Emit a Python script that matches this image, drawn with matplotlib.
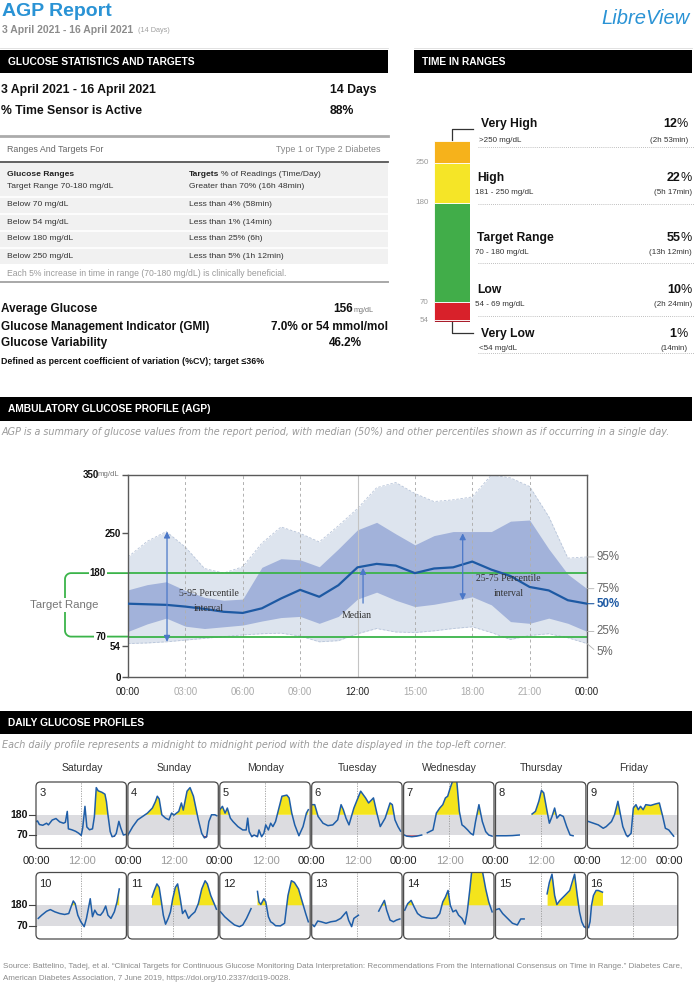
import numpy as np
import matplotlib
matplotlib.use("Agg")
import matplotlib.pyplot as plt
from matplotlib.patches import Rectangle, FancyBboxPatch
from matplotlib.transforms import blended_transform_factory

plt.rcParams["font.family"] = ["Liberation Sans", "DejaVu Sans"]

# ---------------- data ----------------
report_period = "3 April 2021 - 16 April 2021"
n_days_label = "14 Days"
sensor_active = "88%"

tir_names = ["Very Low", "Low", "Target Range", "High", "Very High"]
tir_ranges = ["<54 mg/dL", "54 - 69 mg/dL", "70 - 180 mg/dL", "181 - 250 mg/dL", ">250 mg/dL"]
tir_pct = [1, 10, 55, 22, 12]
tir_time = ["(14min)", "(2h 24min)", "(13h 12min)", "(5h 17min)", "(2h 53min)"]
tir_bounds = ["54", "70", "180", "250"]

target_ranges = ["Below 70 mg/dL", "Below 54 mg/dL", "Below 180 mg/dL", "Below 250 mg/dL"]
target_goals = ["Less than 4% (58min)", "Less than 1% (14min)", "Less than 25% (6h)", "Less than 5% (1h 12min)"]

avg_glucose = "156"
gmi_text = "7.0% or 54 mmol/mol"
cv_text = "46.2%"

agp_hours = list(range(25))
agp_p5 = [58, 59, 61, 64, 67, 70, 73, 75, 76, 71, 61, 63, 75, 84, 78, 77, 80, 84, 87, 77, 65, 72, 75, 68, 58]
agp_p25 = [79, 92, 102, 88, 84, 87, 90, 97, 103, 105, 93, 105, 135, 147, 133, 122, 126, 132, 139, 125, 96, 93, 102, 93, 79]
agp_p50 = [127, 126, 125, 122, 118, 113, 111, 119, 136, 151, 139, 159, 190, 196, 193, 180, 188, 190, 200, 186, 175, 156, 150, 133, 127]
agp_p75 = [151, 160, 165, 150, 138, 133, 135, 190, 205, 203, 191, 222, 255, 268, 248, 229, 245, 252, 252, 252, 270, 272, 222, 178, 153]
agp_p95 = [208, 235, 252, 225, 188, 180, 191, 232, 260, 249, 234, 262, 292, 328, 337, 318, 304, 307, 312, 350, 345, 330, 278, 206, 208]
agp_xticklabels = ["00:00", "03:00", "06:00", "09:00", "12:00", "15:00", "18:00", "21:00", "00:00"]

weekdays = ["Saturday", "Sunday", "Monday", "Tuesday", "Wednesday", "Thursday", "Friday"]
day_numbers = [3, 4, 5, 6, 7, 8, 9, 10, 11, 12, 13, 14, 15, 16]

day03 = [(0.0, 144), (0.4, 147), (0.9, 128), (1.8, 124), (2.8, 135), (3.3, 126), (4.3, 152), (5.3, 160), (6.3, 142), (7.3, 135), (7.8, 140), (8.3, 198), (8.6, 105), (9.5, 100), (10.5, 92), (11.3, 82), (12.0, 70), (12.4, 110), (13.0, 225), (13.5, 115), (14.2, 100), (15.0, 105), (15.5, 170), (16.0, 325), (16.5, 308), (17.5, 300), (18.3, 290), (18.7, 250), (19.1, 180), (19.7, 90), (20.2, 63), (20.8, 66), (21.3, 80), (22.0, 145), (22.5, 110), (23.2, 72), (24.0, 76)]
day04 = [(0.0, 72), (1.3, 117), (2.6, 153), (3.9, 171), (5.2, 189), (6.5, 216), (7.3, 250), (7.8, 279), (8.3, 265), (9.0, 180), (10.0, 162), (10.9, 153), (11.6, 189), (12.2, 178), (13.5, 198), (14.2, 243), (14.7, 205), (15.7, 306), (16.5, 325), (17.4, 279), (18.7, 153), (19.6, 81), (20.3, 57), (20.9, 63), (21.5, 144), (22.2, 180), (23.1, 180), (23.6, 175)]
day05 = [(0.0, 207), (0.7, 225), (1.4, 189), (2.0, 216), (2.8, 162), (3.5, 144), (4.8, 117), (6.1, 99), (7.0, 99), (7.4, 162), (7.8, 90), (8.5, 63), (9.1, 72), (10.0, 63), (10.4, 99), (11.1, 63), (11.7, 81), (12.2, 126), (12.9, 99), (13.5, 135), (14.1, 117), (14.8, 144), (15.7, 216), (16.5, 279), (17.8, 285), (18.4, 270), (19.1, 189), (19.9, 126), (21.0, 68), (22.1, 117), (23.0, 189), (23.5, 207)]
day06 = [(0.0, 234), (0.8, 234), (1.7, 171), (3.0, 135), (4.3, 122), (5.6, 126), (6.9, 153), (7.8, 234), (8.4, 207), (9.1, 162), (9.9, 126), (11.2, 216), (13.0, 306), (14.3, 270), (15.1, 243), (16.4, 270), (17.3, 189), (18.2, 117), (19.5, 162), (20.8, 243), (21.4, 234), (22.1, 153), (22.9, 117), (23.6, 93)]
day07 = [(0.2, 72), (0.8, 66), (2.2, 63), (3.5, 66), (4.8, 72), (5.3, None), (6.3, 84), (7.8, 99), (8.7, 189), (9.6, 216), (10.4, 234), (11.1, 270), (11.7, 279), (12.4, 325), (13.1, 365), (14.1, 365), (14.8, 198), (15.5, 126), (16.1, 117), (17.0, 99), (17.8, 81), (18.5, 72), (19.1, 144), (20.0, 234), (20.9, 144), (21.8, 90), (22.6, 72), (23.5, 66)]
day08 = [(0.2, 68), (2.8, 68), (4.5, 69), (6.3, 72), (7.0, None), (9.7, 184), (10.6, 198), (11.5, 252), (12.2, 310), (12.8, 297), (13.7, 198), (14.3, 135), (15.0, 171), (15.7, 216), (16.3, 162), (17.1, 180), (18.0, 171), (18.9, 117), (19.8, 72), (20.6, 68)]
day09 = [(0.3, 144), (1.6, 135), (2.9, 126), (4.2, 108), (5.0, 117), (6.4, 144), (7.2, 180), (8.1, 252), (8.7, 189), (9.4, 117), (10.3, 72), (10.7, 63), (11.6, 81), (12.2, 216), (12.9, 234), (13.5, 207), (14.1, 225), (14.8, 207), (15.5, 234), (16.8, 230), (18.1, 238), (19.1, 243), (20.0, 171), (20.7, 108), (21.6, 99), (22.3, 81), (22.9, 66)]
day10 = [(0.6, 110), (1.5, 127), (2.8, 148), (3.8, 157), (5.0, 145), (6.3, 136), (7.6, 131), (8.7, 136), (9.3, 171), (9.9, 203), (10.4, 189), (11.1, 127), (11.9, 92), (12.8, 66), (13.4, 110), (13.9, 162), (14.4, 215), (15.0, 119), (15.6, 154), (16.3, 131), (17.1, 127), (17.8, 145), (18.5, 176), (19.1, 127), (19.9, 110), (20.8, 145), (21.5, 197), (22.1, 267)]
day11 = [(6.4, 224), (7.0, 259), (7.7, 294), (8.3, 276), (8.9, 198), (9.4, 127), (10.0, 79), (10.7, 110), (11.3, 145), (11.9, 215), (12.6, 276), (13.2, 294), (13.9, 215), (14.5, 136), (15.2, 154), (16.1, 110), (16.8, 127), (17.8, 145), (18.7, 189), (19.6, 267), (20.5, 311), (21.1, 294), (22.0, 232), (22.9, 189), (23.5, 159)]
day12 = [(0.2, 145), (1.3, 119), (2.6, 96), (3.9, 75), (5.2, 66), (6.1, 75), (7.1, 110), (8.3, 162), (9.0, None), (10.0, 254), (10.4, 198), (10.9, 184), (11.7, 215), (12.2, 198), (12.9, 119), (13.5, 92), (14.1, 84), (14.8, 71), (16.1, 70), (17.2, 84), (18.1, 232), (19.0, 311), (19.8, 302), (20.9, 267), (21.9, 198), (22.8, 136), (23.5, 92)]
day13 = [(0.3, 75), (0.7, 66), (1.6, 96), (2.5, 92), (3.8, 84), (5.1, 92), (6.4, 96), (7.7, 110), (9.2, 145), (9.8, 100), (10.6, 66), (11.2, 110), (12.4, 127), (13.0, None), (17.8, 149), (18.6, 180), (19.3, 206), (19.9, 154), (20.8, 101), (21.7, 92), (22.5, 101), (23.4, 107)]
day14 = [(0.3, 154), (1.1, 189), (2.0, 206), (2.8, 171), (3.7, 136), (4.8, 119), (6.1, 113), (7.4, 110), (8.7, 113), (9.6, 136), (10.4, 198), (11.1, 224), (11.8, 259), (12.4, 180), (13.1, 145), (13.9, 154), (14.6, 127), (15.5, 110), (16.3, 79), (16.9, 145), (17.6, 267), (18.1, 365), (20.9, 365), (21.8, 267), (22.6, 198), (23.5, 145)]
day15 = [(0.2, 157), (1.0, 162), (1.9, 136), (3.2, 110), (4.5, 84), (5.8, 75), (6.7, 107), (7.6, 107), (8.0, None), (13.7, 241), (14.3, 302), (15.0, 346), (15.7, 232), (16.3, 184), (17.1, 206), (18.4, 232), (19.7, 259), (20.6, 320), (21.0, 346), (21.7, 232), (22.3, 145), (22.9, 92), (23.5, 66), (23.9, 61)]
day16 = [(0.3, 61), (0.7, 92), (1.1, 180), (1.6, 232), (2.3, 259), (2.9, 259), (3.5, 254), (4.0, 250)]
daily_traces = [day03, day04, day05, day06, day07, day08, day09, day10, day11, day12, day13, day14, day15, day16]

# ---------------- colours ----------------
BLUE_T = "#2a93d5"
TIR_COLORS = ["#a91d2b", "#d8212a", "#41ad49", "#f5e527", "#f6b21b"]
AGP_LIGHT = "#dde4ee"
AGP_DARK = "#a2b2da"
AGP_MED = "#1d59a3"
GREEN = "#3bb44a"
WIDE = ["DejaVu Sans"]

# ---------------- figure ----------------
W, H = 700, 992
fig = plt.figure(figsize=(7, 9.92), dpi=100)
bg = fig.add_axes([0, 0, 1, 1])
bg.set_xlim(0, W)
bg.set_ylim(H, 0)
bg.axis("off")
renderer = fig.canvas.get_renderer()


def T(x, y, s, size=6.0, weight="normal", color="#222222", ha="left", va="center",
      style="normal", family=None, **kw):
    d = dict(fontsize=size, fontweight=weight, color=color, ha=ha, va=va, style=style)
    if family is not None:
        d["family"] = family
    d.update(kw)
    return bg.text(x, y, s, **d)


def width(t):
    return t.get_window_extent(renderer=renderer).width


def header_bar(x0, y0, x1, y1, label):
    bg.add_patch(Rectangle((x0, y0), x1 - x0, y1 - y0, color="black", lw=0))
    T(x0 + 8, (y0 + y1) / 2 + 0.5, label, size=7.4, weight="bold", color="white")


def axes_px(x0, y0, x1, y1, **kw):
    return fig.add_axes([x0 / W, 1 - y1 / H, (x1 - x0) / W, (y1 - y0) / H], **kw)


# ---- title ----
T(2, 12, "AGP Report", size=14, weight="bold", color=BLUE_T)
t = T(2, 30, report_period, size=7.5, weight="bold", color="#8c8c8c")
T(2 + width(t) + 5, 30.5, "(14 Days)", size=5.2, color="#a0a0a0")
T(690, 18, "LibreView", size=14.5, style="italic", color=BLUE_T, ha="right")
bg.plot([0, 388], [48, 48], color="#dddddd", lw=0.6)
bg.plot([414, 692], [48, 48], color="#dddddd", lw=0.6)

# ---- glucose statistics ----
header_bar(0, 50, 388, 73, "GLUCOSE STATISTICS AND TARGETS")
T(1, 90, report_period, size=8.8, weight="bold", color="#111")
T(330, 90, n_days_label, size=8.8, weight="bold", color="#111")
T(1, 111, "% Time Sensor is Active", size=8.8, weight="bold", color="#111")
T(330, 111, sensor_active, size=8.8, weight="bold", color="#111")

bg.plot([0, 388], [136, 136], color="#ababab", lw=2)
T(7, 149, "Ranges And Targets For", size=6.4, color="#666")
T(381, 149, "Type 1 or Type 2 Diabetes", size=6.4, color="#888", ha="right")
bg.add_patch(Rectangle((0, 162), 388, 102, color="#f1f1f1", lw=0))
bg.plot([0, 388], [162, 162], color="#555", lw=1.3)
T(7, 174, "Glucose Ranges", size=6.1, weight="bold", color="#222")
T(7, 187, "Target Range 70-180 mg/dL", size=6.1, color="#333")
tt = T(189, 174, "Targets", size=6.1, weight="bold", color="#222")
T(189 + width(tt) + 2, 174, "% of Readings (Time/Day)", size=6.1, color="#333")
T(189, 187, "Greater than 70% (16h 48min)", size=6.1, color="#333")
row_y = [205, 222, 239, 256]
for yy, a, b in zip(row_y, target_ranges, target_goals):
    bg.plot([0, 388], [yy - 8.5, yy - 8.5], color="white", lw=1.2)
    T(7, yy, a, size=6.1, color="#333")
    T(189, yy, b, size=6.1, color="#333")
bg.plot([0, 388], [264.5, 264.5], color="white", lw=1.2)
T(7, 273, "Each 5% increase in time in range (70-180 mg/dL) is clinically beneficial.", size=6.2, color="#9a9a9a")
bg.plot([0, 388], [282, 282], color="#a8a8a8", lw=1.4)

T(1, 309, "Average Glucose", size=8.5, weight="bold", color="#111")
ta = T(333, 309, avg_glucose, size=8.5, weight="bold", color="#111")
T(333 + width(ta) + 1, 310, "mg/dL", size=5.2, color="#777")
T(1, 327, "Glucose Management Indicator (GMI)", size=8.5, weight="bold", color="#111")
T(388, 327, gmi_text, size=8.5, weight="bold", color="#111", ha="right")
T(1, 343, "Glucose Variability", size=8.5, weight="bold", color="#111")
T(329, 343, cv_text, size=8.5, weight="bold", color="#111")
T(1, 362, "Defined as percent coefficient of variation (%CV); target \u226436%", size=6.4, weight="bold", color="#111")

# ---- time in ranges ----
header_bar(414, 50, 692, 73, "TIME IN RANGES")
tax = axes_px(434, 141, 470, 322)
tax.set_xlim(0, 1)
tax.set_ylim(0, sum(tir_pct))
bottoms = np.concatenate([[0], np.cumsum(tir_pct)[:-1]])
tax.bar(0.5, tir_pct, bottom=bottoms, width=1.0, color=TIR_COLORS, edgecolor="white", linewidth=0.6)
tax.axis("off")
btr = blended_transform_factory(tax.transAxes, tax.transData)
for b, lab in zip(np.cumsum(tir_pct)[:-1], tir_bounds):
    tax.text(-0.15, b, lab, transform=btr, ha="right", va="center", fontsize=5.8, color="#9a9a9a")

bg.plot([452, 452, 473], [141, 129, 129], color="#333", lw=0.9)
bg.plot([452, 452, 473], [322, 333, 333], color="#333", lw=0.9)

tir_name_y = [334, 290, 238, 178, 124]
tir_sub_y = [348, 304, 252, 193, 141]
tir_line_y = [353, 316, 263, 204, 147]
tir_name_x = [481, 477, 477, 477, 481]
tir_right = [688, 692, 692, 692, 688]
for i in range(5):
    T(tir_name_x[i], tir_name_y[i], tir_names[i], size=8.7, weight="bold", color="#111")
    T(tir_name_x[i] - 2, tir_sub_y[i], tir_ranges[i], size=5.8, color="#333")
    tp = T(tir_right[i], tir_name_y[i], "%", size=9, color="#111", ha="right")
    T(tir_right[i] - width(tp), tir_name_y[i], str(tir_pct[i]), size=9, weight="bold", color="#111", ha="right")
    T(tir_right[i], tir_sub_y[i], tir_time[i], size=5.8, color="#333", ha="right")
    bg.plot([478, 694], [tir_line_y[i], tir_line_y[i]], color="#aaaaaa", lw=0.6, ls=(0, (1, 1.5)))

# ---- AGP ----
header_bar(0, 397, 692, 421, "AMBULATORY GLUCOSE PROFILE (AGP)")
T(2, 432, "AGP is a summary of glucose values from the report period, with median (50%) and other percentiles shown as if occurring in a single day.",
  size=6.9, style="italic", color="#9a9a9a", family=WIDE)

agp = axes_px(128, 475, 587, 677)
agp.set_xlim(0, 24)
agp.set_ylim(0, 350)
agp.fill_between(agp_hours, agp_p5, agp_p95, color=AGP_LIGHT, lw=0, zorder=1)
agp.plot(agp_hours, agp_p95, color="#b7c4d9", lw=0.6, ls=(0, (3, 2)), zorder=1.2)
agp.plot(agp_hours, agp_p5, color="#b7c4d9", lw=0.6, ls=(0, (3, 2)), zorder=1.2)
agp.fill_between(agp_hours, agp_p25, agp_p75, color=AGP_DARK, lw=0, zorder=1.5)
for hh in [3, 6, 9, 15, 18, 21]:
    agp.axvline(hh, color="#b0b0b0", lw=0.7, ls=(0, (3, 3)), zorder=1.8)
agp.axvline(12, color="#c4c4c4", lw=0.8, zorder=1.8)
agp.plot(agp_hours, agp_p50, color=AGP_MED, lw=1.6, zorder=3)
agp.axhline(180, color=GREEN, lw=1.3, zorder=2.5)
agp.axhline(70, color=GREEN, lw=1.3, zorder=2.5)
for s in agp.spines.values():
    s.set_color("#5a5a5a")
    s.set_linewidth(1.0)
agp.set_xticks(np.arange(0, 25, 3))
agp.set_xticklabels(agp_xticklabels)
for i, lab in enumerate(agp.get_xticklabels()):
    lab.set_fontsize(7)
    lab.set_color("#222" if i in (0, 4, 8) else "#aaaaaa")
agp.tick_params(axis="x", length=0, pad=7)
agp.set_yticks([0, 54, 250, 350])
agp.set_yticklabels(["0", "54", "250", ""])
for lab in agp.get_yticklabels():
    lab.set_fontsize(7)
    lab.set_fontweight("bold")
    lab.set_color("#111")
agp.tick_params(axis="y", length=4, width=1, color="#555", pad=1)

# annotations
acol = "#4b78c8"
agp.annotate("", xy=(2.04, 252), xytext=(2.04, 61),
             arrowprops=dict(arrowstyle="<|-|>", color=acol, lw=0.9, shrinkA=0, shrinkB=0, mutation_scale=9), zorder=4)
agp.annotate("", xy=(17.5, 249), xytext=(17.5, 133),
             arrowprops=dict(arrowstyle="<|-|>", color=acol, lw=0.9, shrinkA=0, shrinkB=0, mutation_scale=9), zorder=4)
agp.annotate("", xy=(12.29, 189), xytext=(12.29, 128),
             arrowprops=dict(arrowstyle="-|>", color=acol, lw=0.9, shrinkA=0, shrinkB=0, mutation_scale=9), zorder=4)
serif = ["Liberation Serif", "DejaVu Serif"]
agp.text(4.25, 144, "5-95 Percentile", family=serif, fontsize=7, color="#333", ha="center", va="center", zorder=5)
agp.text(4.25, 118, "interval", family=serif, fontsize=7, color="#333", ha="center", va="center", zorder=5)
agp.text(11.98, 107, "Median", family=serif, fontsize=7, color="#333", ha="center", va="center", zorder=5)
agp.text(19.9, 171, "25-75 Percentile", family=serif, fontsize=7, color="#333", ha="center", va="center", zorder=5)
agp.text(19.9, 144, "interval", family=serif, fontsize=7, color="#333", ha="center", va="center", zorder=5)

# right percentile labels
pct_names = ["95%", "75%", "50%", "25%", "5%"]
pct_end = [agp_p95[-1], agp_p75[-1], agp_p50[-1], agp_p25[-1], agp_p5[-1]]
pct_offset = [0, 0, 0, 0, -6]
for nm, v, off in zip(pct_names, pct_end, pct_offset):
    is50 = nm == "50%"
    agp.annotate(nm, xy=(24, v), xytext=(7, off), textcoords="offset points", xycoords="data",
                 fontsize=8.3, color=AGP_MED if is50 else "#666", fontweight="bold" if is50 else "normal",
                 ha="left", va="center", annotation_clip=False,
                 arrowprops=dict(arrowstyle="-", color=AGP_MED if is50 else "#b0b0b0", lw=0.8 if is50 else 0.6,
                                 shrinkA=0, shrinkB=0, relpos=(0, 0.5)))

# left side target range bracket
y180 = 677 - 180 * 202 / 350
y70 = 677 - 70 * 202 / 350
r = 6
th = np.linspace(0, np.pi / 2, 12)
top_arc_x = 65 + r - r * np.sin(th)
top_arc_y = y180 + r - r * np.cos(th)
bot_arc_x = 65 + r - r * np.cos(th)
bot_arc_y = y70 - r + r * np.sin(th)
bx = np.concatenate([[128], top_arc_x, bot_arc_x, [128]])
by = np.concatenate([[y180], top_arc_y, bot_arc_y, [y70]])
bg.plot(bx, by, color=GREEN, lw=1.3)
T(64, (y180 + y70) / 2, "Target Range", size=8.2, color="#777", ha="center",
  bbox=dict(boxstyle="square,pad=0.15", fc="white", ec="none"))
T(106, y180, "180", size=7, weight="bold", color="#111", ha="right",
  bbox=dict(boxstyle="square,pad=0.1", fc="white", ec="none"))
T(106, y70, "70", size=7, weight="bold", color="#111", ha="right",
  bbox=dict(boxstyle="square,pad=0.1", fc="white", ec="none"))
tm = T(119, 475, "mg/dL", size=5.6, color="#777", ha="right")
T(121 - width(tm), 475, "350", size=7, weight="bold", color="#111", ha="right")

# ---- daily profiles ----
header_bar(0, 711, 692, 734, "DAILY GLUCOSE PROFILES")
T(2, 745, "Each daily profile represents a midnight to midnight period with the date displayed in the top-left corner.",
  size=6.9, style="italic", color="#9a9a9a", family=WIDE)

PX0 = 36.0
PW = 91.9
row_tops = [782.0, 872.5]
row_h = 66.5
for c, wd in enumerate(weekdays):
    T(PX0 + c * PW + PW / 2, 768, wd, size=7.5, color="#333", ha="center")

for k, (dn, tr) in enumerate(zip(day_numbers, daily_traces)):
    rr, c = divmod(k, 7)
    x0 = PX0 + c * PW
    y0 = row_tops[rr]
    ax = axes_px(x0, y0, x0 + PW - 1.5, y0 + row_h)
    ax.set_xlim(0, 24)
    ax.set_ylim(0, 355)
    ax.axis("off")
    ax.axhspan(70, 180, color="#dcdce0", lw=0, zorder=0)
    ax.axvline(12, color="#9a9a9a", lw=0.6, ls=(0, (1.5, 1.5)), zorder=0.5)
    hrs = np.array([p[0] for p in tr], dtype=float)
    vals = np.array([np.nan if p[1] is None else p[1] for p in tr], dtype=float)
    ok = ~np.isnan(vals)
    ax.fill_between(hrs, vals, 180, where=ok & (np.nan_to_num(vals) > 180), interpolate=True,
                    color="#f4e41c", lw=0, zorder=1)
    ax.fill_between(hrs, vals, 70, where=ok & (np.nan_to_num(vals, nan=100) < 70), interpolate=True,
                    color="#d4202c", lw=0, zorder=1)
    ax.plot(hrs, vals, color="#1f5ea8", lw=1.1, zorder=2)
    box = FancyBboxPatch((0, 0), 1, 1, boxstyle="round,pad=0,rounding_size=0.05",
                         mutation_aspect=(PW - 1.5) / row_h, transform=ax.transAxes,
                         fc="none", ec="#4a4a4a", lw=0.9, clip_on=False, zorder=3)
    ax.add_patch(box)
    ax.text(0.035, 0.83, str(dn), transform=ax.transAxes, fontsize=8, color="#222", ha="left", va="center")

for rr in range(2):
    y0 = row_tops[rr]
    for v, lab in [(180, "180"), (70, "70")]:
        yy = y0 + row_h - v * row_h / 355
        T(28, yy, lab, size=7.5, weight="bold", color="#111", ha="right")
        bg.plot([29, 36], [yy, yy], color="#444", lw=0.8)

for c in range(8):
    xb = PX0 + c * PW
    if c < 7:
        T(xb, 861, "00:00", size=8, color="#222", ha="center")
        T(xb + PW / 2, 861, "12:00", size=8, color="#9a9a9a", ha="center")
    else:
        T(683, 861, "00:00", size=8, color="#222", ha="right")

# ---- footer ----
T(3, 966, "Source: Battelino, Tadej, et al. \u201cClinical Targets for Continuous Glucose Monitoring Data Interpretation: Recommendations From the International Consensus on Time in Range.\u201d Diabetes Care,",
  size=5.8, color="#8a8a8a")
T(3, 979, "American Diabetes Association, 7 June 2019, https://doi.org/10.2337/dci19-0028.", size=5.8, color="#8a8a8a")

fig.savefig("out.png", dpi=100)
